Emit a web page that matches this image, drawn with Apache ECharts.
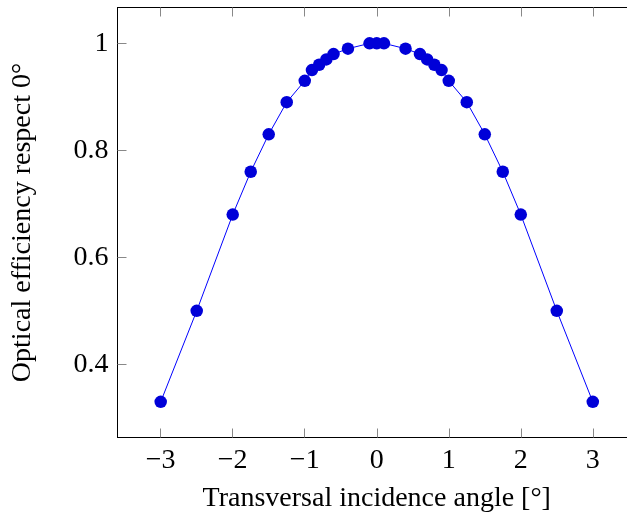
<!DOCTYPE html>
<html><head><meta charset="utf-8">
<script src="https://cdn.jsdelivr.net/npm/echarts@6/dist/echarts.min.js"></script>
<style>html,body{margin:0;padding:0;background:#fff}#c{width:627px;height:517px}</style>
</head><body><div id="c"></div>
<script>
const angles = [-3, -2.5, -2, -1.75, -1.5, -1.25, -1, -0.9, -0.8, -0.7, -0.6, -0.4, -0.1, 0, 0.1, 0.4, 0.6, 0.7, 0.8, 0.9, 1, 1.25, 1.5, 1.75, 2, 2.5, 3];
const efficiency = [0.33, 0.5, 0.68, 0.76, 0.83, 0.89, 0.93, 0.95, 0.96, 0.97, 0.98, 0.99, 1, 1, 1, 0.99, 0.98, 0.97, 0.96, 0.95, 0.93, 0.89, 0.83, 0.76, 0.68, 0.5, 0.33];
const xTicks = [-3, -2, -1, 0, 1, 2, 3];
const yTicks = [0.4, 0.6, 0.8, 1];

const font = 'Liberation Serif';
const fmtX = v => (v < 0 ? '\u2212' + Math.abs(v) : String(v));
const fmtY = v => String(v);
const tickStyle = {show: true, inside: true, length: 9, lineStyle: {color: '#888', width: 1}};
const lineStyle = {color: '#000', width: 1};

const chart = echarts.init(document.getElementById('c'), null, {renderer: 'canvas'});
chart.setOption({
  animation: false,
  grid: {left: 117.5, top: 7.5, width: 518.5, height: 430, containLabel: false, outerBoundsMode: 'none'},
  xAxis: [{
    type: 'value', min: -3.6, max: 3.6, position: 'bottom',
    axisLine: {show: true, onZero: false, lineStyle},
    axisTick: Object.assign({customValues: xTicks}, tickStyle),
    axisLabel: {customValues: xTicks, formatter: fmtX, fontFamily: font, fontSize: 28, color: '#000', margin: 9},
    splitLine: {show: false},
    name: 'Transversal incidence angle [\u00b0]', nameLocation: 'middle', nameGap: 47,
    nameTextStyle: {fontFamily: font, fontSize: 28, color: '#000'}
  }, {
    type: 'value', min: -3.6, max: 3.6, position: 'top',
    axisLine: {show: true, onZero: false, lineStyle},
    axisTick: Object.assign({customValues: xTicks}, tickStyle),
    axisLabel: {show: false}, splitLine: {show: false}
  }],
  yAxis: [{
    type: 'value', min: 0.2633, max: 1.067, position: 'left',
    axisLine: {show: true, onZero: false, lineStyle},
    axisTick: Object.assign({customValues: yTicks}, tickStyle),
    axisLabel: {customValues: yTicks, formatter: fmtY, fontFamily: font, fontSize: 28, color: '#000', margin: 9},
    splitLine: {show: false},
    name: 'Optical efficiency respect 0\u00b0', nameLocation: 'middle', nameGap: 81,
    nameTextStyle: {fontFamily: font, fontSize: 28, color: '#000'}
  }, {
    type: 'value', min: 0.2633, max: 1.067, position: 'right',
    axisLine: {show: true, onZero: false, lineStyle},
    axisTick: Object.assign({customValues: yTicks}, tickStyle),
    axisLabel: {show: false}, splitLine: {show: false}
  }],
  series: [{
    type: 'line',
    data: angles.map((a, i) => [a, efficiency[i]]),
    symbol: 'circle', symbolSize: 12.5,
    lineStyle: {color: '#0000ff', width: 1},
    itemStyle: {color: '#0000d8'},
    z: 3
  }]
});
</script></body></html>
